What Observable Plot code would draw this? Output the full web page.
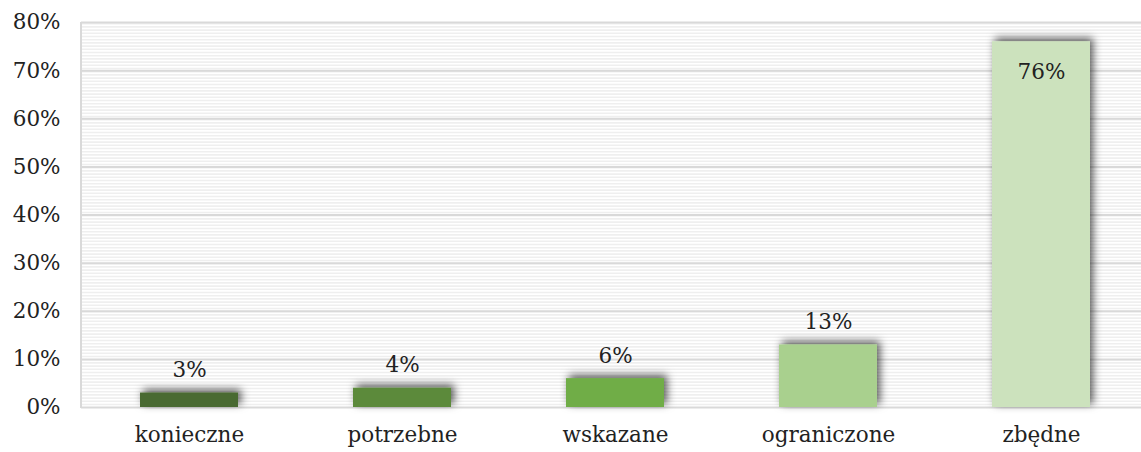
<!DOCTYPE html>
<html><head><meta charset="utf-8">
<script src="https://cdn.jsdelivr.net/npm/d3@7"></script>
<script src="https://cdn.jsdelivr.net/npm/@observablehq/plot@0.6"></script>
<style>body{margin:0;background:#fff;overflow:hidden}</style>
</head><body><div id="chart"></div>
<script>
const categories = ["konieczne","potrzebne","wskazane","ograniczone","zbędne"];
const values = [3, 4, 6, 13, 76];
const colors = ["#4a6b30","#5b8a3a","#70ad47","#a9d08e","#cce2bd"];
const yTicks = [0,10,20,30,40,50,60,70,80];

const data = categories.map((c,i)=>({cat:c, value:values[i], color:colors[i]}));
const font = "'DejaVu Serif', serif";

const plot = Plot.plot({
  width: 1141, height: 452,
  marginLeft: 81, marginRight: 0, marginTop: 22, marginBottom: 45,
  style: {fontFamily: font, fontSize: "21.5px", color: "#222", background: "#fff"},
  x: {domain: categories, range: [81, 1148], paddingInner: 0.54, paddingOuter: 0.27, label: null, tickSize: 0, tickPadding: 19},
  y: {domain: [0, 80], ticks: yTicks, tickFormat: d => d + "%", label: null, tickSize: 0, tickPadding: 21},
  marks: [
    Plot.frame({fill: "url(#stripes)", stroke: null}),
    Plot.gridY(yTicks, {stroke: "#d9d9d9", strokeOpacity: 1, strokeWidth: 2}),
    Plot.barY(data, {x: "cat", y: "value", fill: "color"}),
    Plot.text(data.filter(d => d.value < 50), {x: "cat", y: "value", text: d => d.value + "%", dy: -23, fill: "#222", fontSize: 21.5}),
    Plot.text(data.filter(d => d.value >= 50), {x: "cat", y: "value", text: d => d.value + "%", dy: 30, fill: "#222", fontSize: 21.5})
  ]
});

const ns = "http://www.w3.org/2000/svg";
const defs = document.createElementNS(ns, "defs");
defs.innerHTML = `
<pattern id="stripes" patternUnits="userSpaceOnUse" width="8" height="3.2">
  <rect width="8" height="3.2" fill="#ffffff"/>
  <rect y="0" width="8" height="1.6" fill="#efefef"/>
</pattern>
<filter id="shadow" x="-20%" y="-60%" width="140%" height="220%">
  <feDropShadow dx="3" dy="-3" stdDeviation="4" flood-color="#000" flood-opacity="0.65"/>
</filter>`;
plot.insertBefore(defs, plot.firstChild);
plot.querySelectorAll("g[aria-label='bar'] rect").forEach(r => r.setAttribute("filter", "url(#shadow)"));

const y = plot.scale("y");
const left = document.createElementNS(ns, "line");
left.setAttribute("x1", 81); left.setAttribute("x2", 81);
left.setAttribute("y1", y.apply(80)); left.setAttribute("y2", y.apply(0) + 1);
left.setAttribute("stroke", "#d9d9d9"); left.setAttribute("stroke-width", 2);
plot.appendChild(left);

document.getElementById("chart").appendChild(plot);
</script></body></html>
